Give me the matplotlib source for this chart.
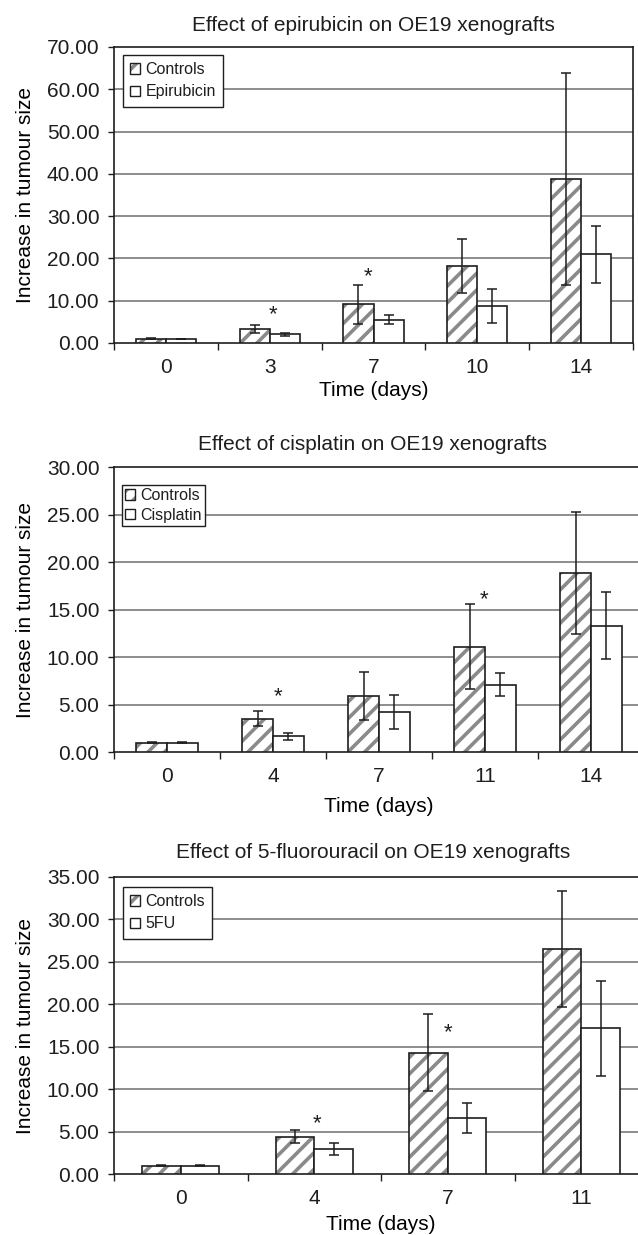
import numpy as np
import matplotlib
matplotlib.use('Agg')
import matplotlib.pyplot as plt
from matplotlib.patches import Patch
from matplotlib.legend_handler import HandlerTuple

plt.rcParams['font.family'] = ['Liberation Sans', 'DejaVu Sans']
plt.rcParams['hatch.linewidth'] = 2.6
plt.rcParams['text.color'] = '#1e1e1e'
plt.rcParams['xtick.color'] = '#1e1e1e'
plt.rcParams['ytick.color'] = '#1e1e1e'

# Data
epi_days = ['0', '3', '7', '10', '14']
epi_ctrl = [1.0, 3.3, 9.2, 18.2, 38.8]
epi_ctrl_err = [0.08, 0.95, 4.6, 6.45, 25.0]
epi_drug = [1.0, 2.1, 5.5, 8.8, 21.0]
epi_drug_err = [0.05, 0.35, 1.05, 4.05, 6.7]
epi_star_idx = [1, 2]
epi_star_y = [6.6, 15.6]
epi_star_dx = [0.03, -0.05]

cis_days = ['0', '4', '7', '11', '14']
cis_ctrl = [1.0, 3.5, 5.9, 11.1, 18.85]
cis_ctrl_err = [0.05, 0.8, 2.55, 4.45, 6.4]
cis_drug = [1.0, 1.65, 4.2, 7.1, 13.3]
cis_drug_err = [0.03, 0.4, 1.8, 1.17, 3.55]
cis_star_idx = [1, 3]
cis_star_y = [5.8, 16.0]
cis_star_dx = [0.05, -0.01]

fu_days = ['0', '4', '7', '11']
fu_ctrl = [1.0, 4.4, 14.3, 26.5]
fu_ctrl_err = [0.05, 0.8, 4.5, 6.8]
fu_drug = [1.0, 2.9, 6.55, 17.15]
fu_drug_err = [0.03, 0.7, 1.77, 5.55]
fu_star_idx = [1, 2]
fu_star_y = [5.9, 16.7]
fu_star_dx = [0.02, 0.0]

panels = [
    dict(title='Effect of epirubicin on OE19 xenografts', drug='Epirubicin',
         days=epi_days, ctrl=epi_ctrl, ctrl_err=epi_ctrl_err, trt=epi_drug, trt_err=epi_drug_err,
         star_idx=epi_star_idx, star_y=epi_star_y, star_dx=epi_star_dx,
         ymax=70, step=10, px=(114, 633, 47, 343), tpad=11.5, xpad=3,
         leg=(123, 55), bpad=0.45, lspace=0.45),
    dict(title='Effect of cisplatin on OE19 xenografts', drug='Cisplatin',
         days=cis_days, ctrl=cis_ctrl, ctrl_err=cis_ctrl_err, trt=cis_drug, trt_err=cis_drug_err,
         star_idx=cis_star_idx, star_y=cis_star_y, star_dx=cis_star_dx,
         ymax=30, step=5, px=(114, 644, 467, 752), tpad=12, xpad=8,
         leg=(122, 485), bpad=0.2, lspace=0.3),
    dict(title='Effect of 5-fluorouracil on OE19 xenografts', drug='5FU',
         days=fu_days, ctrl=fu_ctrl, ctrl_err=fu_ctrl_err, trt=fu_drug, trt_err=fu_drug_err,
         star_idx=fu_star_idx, star_y=fu_star_y, star_dx=fu_star_dx,
         ymax=35, step=5, px=(114, 648, 877, 1174), tpad=13.5, xpad=4.8,
         leg=(123, 887), bpad=0.45, lspace=0.45),
]

W, H = 638, 1235
fig = plt.figure(figsize=(W / 100, H / 100), dpi=100)
hatch_col = '#8a8a8a'
bw = 0.29

for p in panels:
    l, r, t, b = p['px']
    ax = fig.add_axes([l / W, 1 - b / H, (r - l) / W, (b - t) / H])
    n = len(p['days'])
    x = np.arange(n) + 0.5

    # hatched controls (hatch drawn in grey, outline in black on top)
    ax.bar(x - bw / 2, p['ctrl'], bw, color='white', edgecolor=hatch_col, hatch='//',
           linewidth=0, zorder=3)
    ax.bar(x - bw / 2, p['ctrl'], bw, fill=False, edgecolor='#1e1e1e', linewidth=1.2, zorder=4)
    ax.bar(x + bw / 2, p['trt'], bw, color='white', edgecolor='#1e1e1e', linewidth=1.2, zorder=4)
    ax.errorbar(x - bw / 2, p['ctrl'], yerr=p['ctrl_err'], fmt='none', ecolor='#1e1e1e',
                elinewidth=1.1, capsize=3.3, capthick=1.1, zorder=5)
    ax.errorbar(x + bw / 2, p['trt'], yerr=p['trt_err'], fmt='none', ecolor='#1e1e1e',
                elinewidth=1.1, capsize=3.3, capthick=1.1, zorder=5)

    for i, sy, dx in zip(p['star_idx'], p['star_y'], p['star_dx']):
        ax.text(x[i] + dx, sy, '*', ha='center', va='center', fontsize=16, zorder=6)

    ax.set_xlim(0, n)
    ax.set_ylim(0, p['ymax'])
    yt = np.arange(0, p['ymax'] + 0.1, p['step'])
    ax.set_yticks(yt)
    ax.set_yticklabels(['%.2f' % v for v in yt], fontsize=15)
    ax.set_xticks(x)
    ax.set_xticklabels(p['days'], fontsize=15)
    ax.set_xticks(np.arange(n + 1), minor=True)
    ax.tick_params(axis='x', which='major', length=0, pad=11)
    ax.tick_params(axis='x', which='minor', length=5, width=1, direction='out')
    ax.tick_params(axis='y', length=4, width=1, direction='out', pad=6.5)
    for v in yt[1:-1]:
        ax.axhline(v, color='#7a7a7a', linewidth=1.2, zorder=1)
    for s in ax.spines.values():
        s.set_color('#1e1e1e')
        s.set_linewidth(1.2)

    ax.set_xlabel('Time (days)', fontsize=15, labelpad=p['xpad'])
    ax.set_ylabel('Increase in tumour size', fontsize=15)
    ax.yaxis.set_label_coords((35 - l) / (r - l), 0.5)
    ax.set_title(p['title'], fontsize=15, pad=p['tpad'], x=(373 - l) / (r - l))

    h_ctrl = (Patch(facecolor='white', edgecolor=hatch_col, hatch='//', linewidth=0),
              Patch(fill=False, edgecolor='#1e1e1e', linewidth=1.0))
    h_trt = Patch(facecolor='white', edgecolor='#1e1e1e', linewidth=1.0)
    lx, ly = p['leg']
    leg = ax.legend([h_ctrl, h_trt], ['Controls', p['drug']],
                    handler_map={tuple: HandlerTuple(ndivide=1, pad=0)},
                    loc='upper left',
                    bbox_to_anchor=((lx - l) / (r - l), (b - ly) / (b - t)),
                    borderaxespad=0, fontsize=11.5, fancybox=False, framealpha=1,
                    edgecolor='#1e1e1e', handlelength=0.6, handleheight=0.6,
                    handletextpad=0.35, borderpad=p['bpad'], labelspacing=p['lspace'])
    leg.get_frame().set_linewidth(1.0)
    leg.set_zorder(7)

fig.savefig('out.png', dpi=100)
